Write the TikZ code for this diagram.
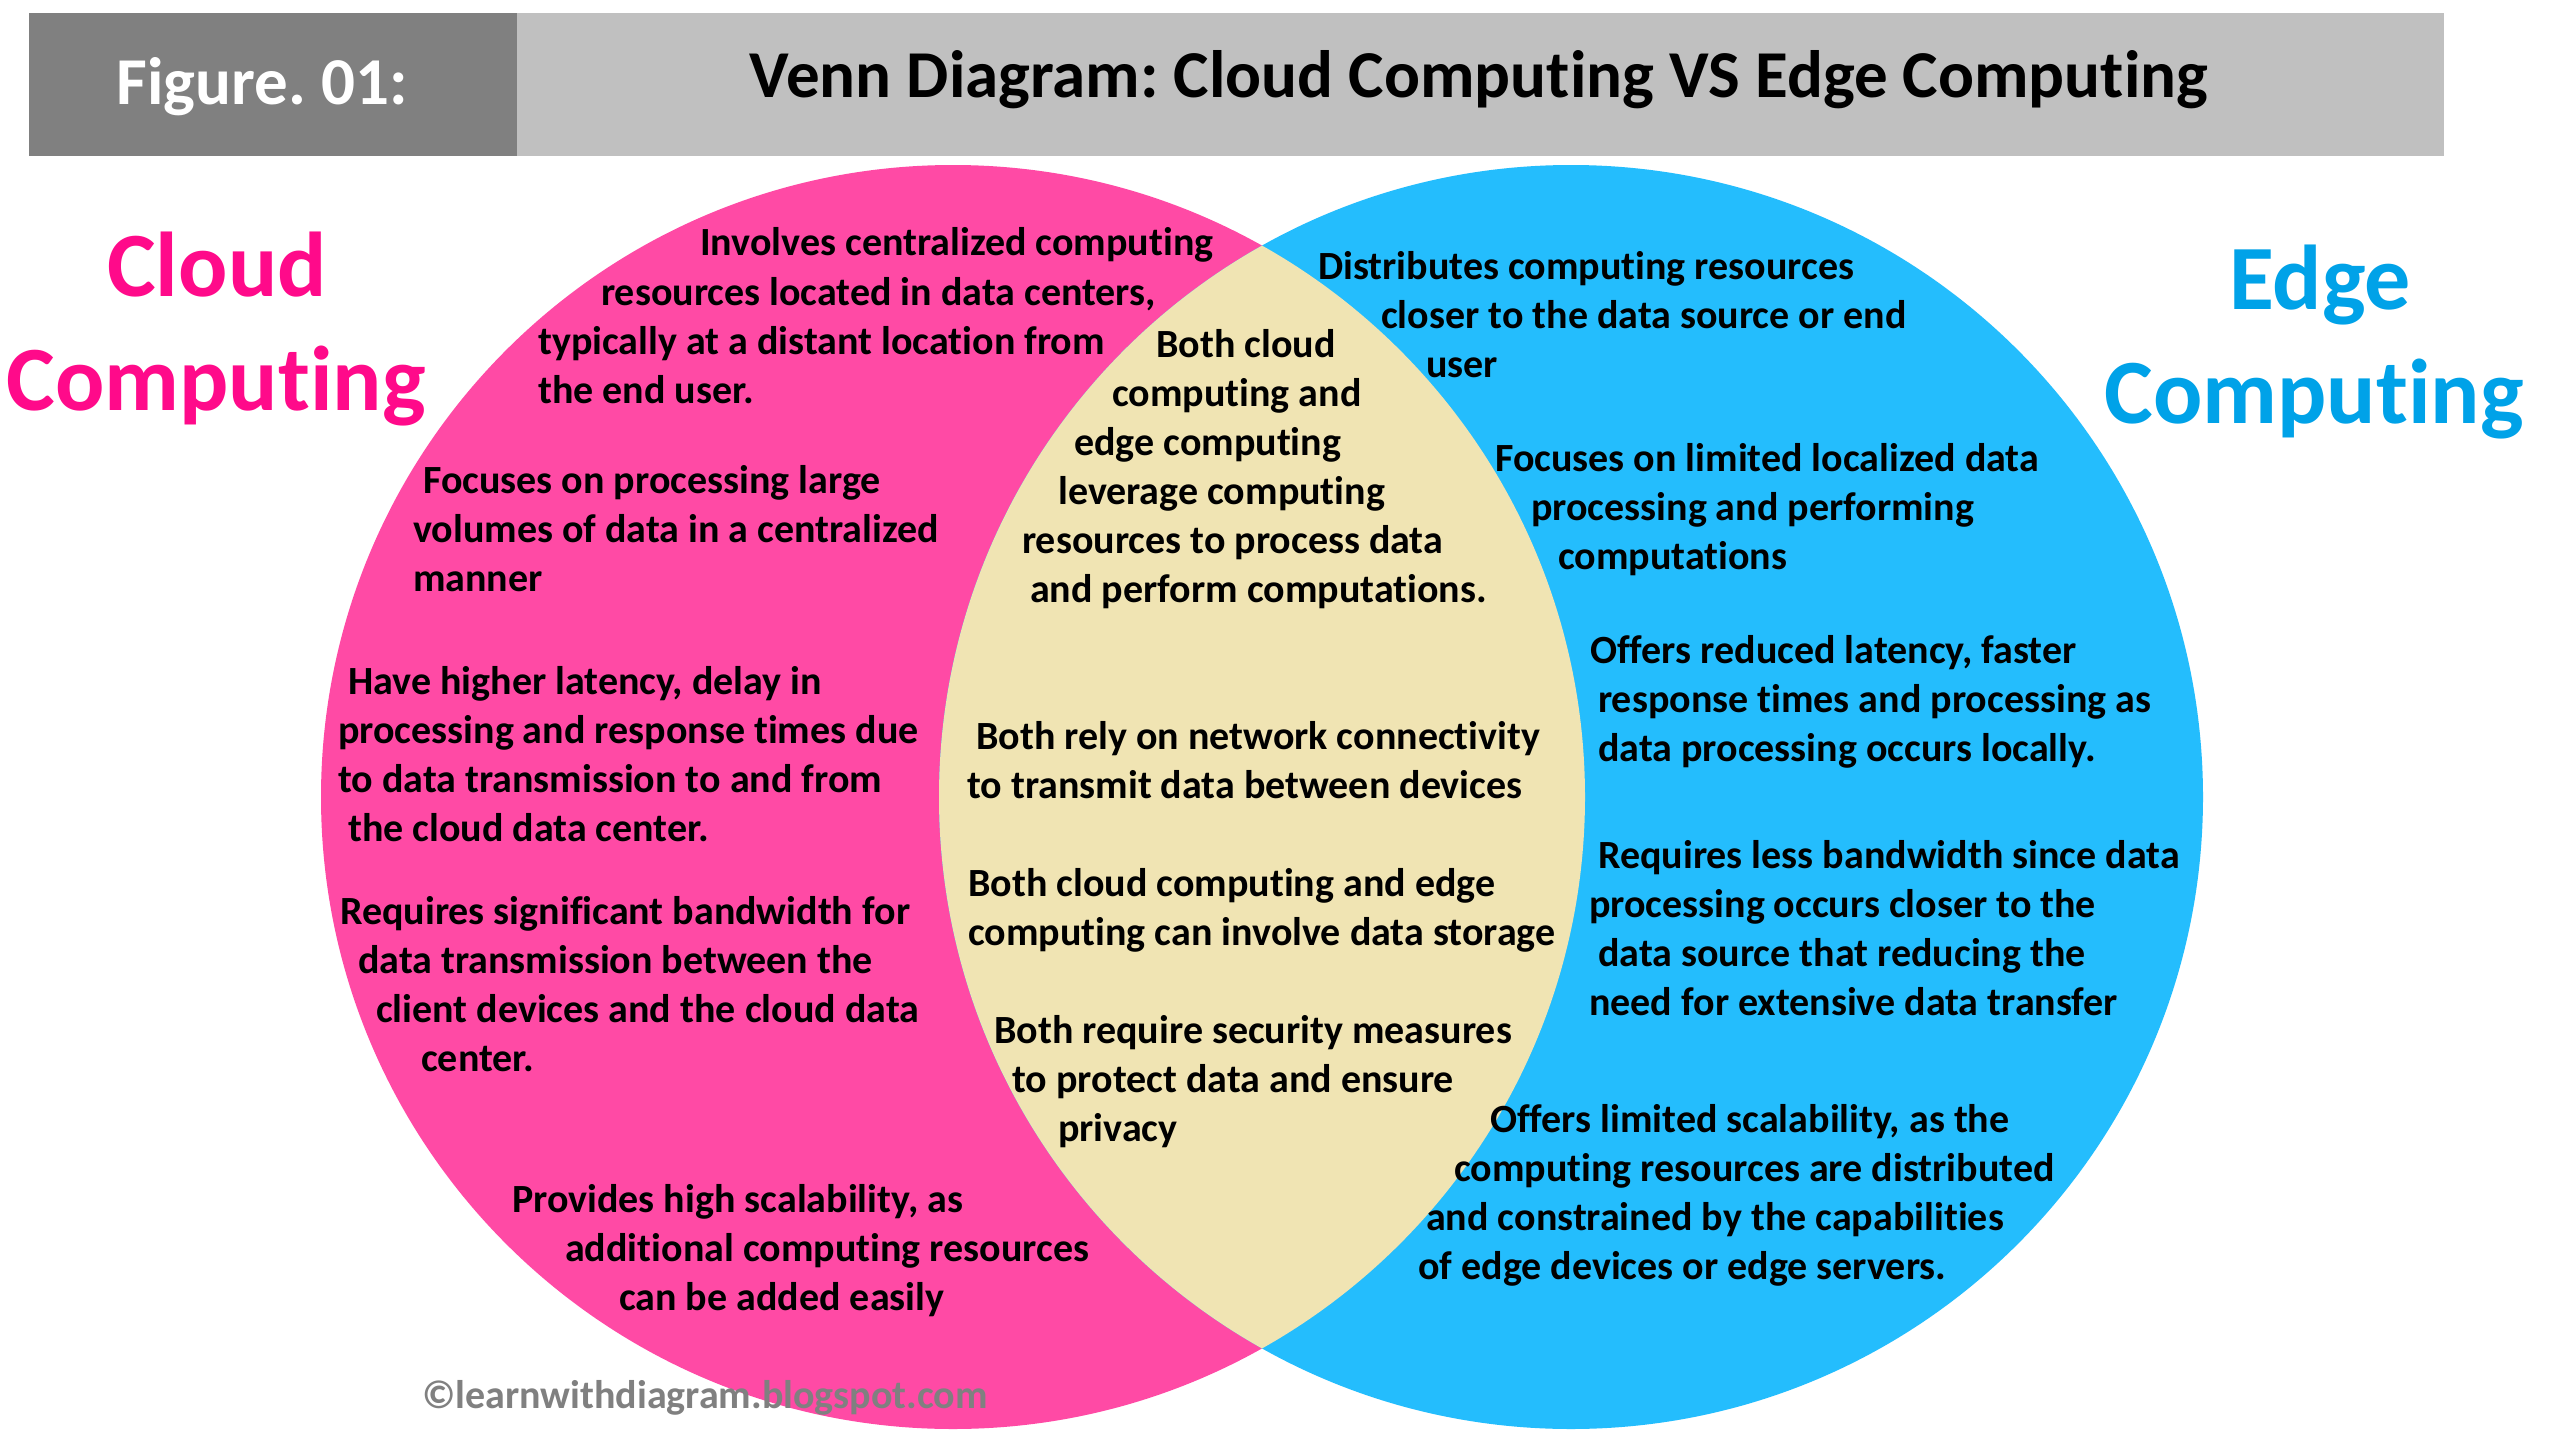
\documentclass[tikz,border=0pt]{standalone}
\usepackage{fontspec}
\setmainfont{Carlito}[RawFeature={-liga;-calt;-clig;-dlig}]
\frenchspacing
\definecolor{pinkc}{RGB}{255,74,165}
\definecolor{bluec}{RGB}{36,189,253}
\definecolor{beigec}{RGB}{240,228,179}
\definecolor{darkbar}{RGB}{128,128,128}
\definecolor{lightbar}{RGB}{192,192,192}
\definecolor{cloudlbl}{RGB}{255,10,138}
\definecolor{edgelbl}{RGB}{0,162,232}
\definecolor{markgray}{RGB}{128,128,128}
\tikzset{
  txt/.style={anchor=base west, inner sep=0pt, font=\fontsize{40}{49}\selectfont\bfseries},
  biglbl/.style={anchor=base, inner sep=0pt, font=\fontsize{92}{112}\selectfont\bfseries},
  headtxt/.style={anchor=base, inner sep=0pt, font=\fontsize{67}{80}\selectfont\bfseries},
}
\begin{document}
\begin{tikzpicture}[x=1pt,y=-1pt]
\useasboundingbox (0,0) rectangle (2560,1440);
\fill[white] (0,0) rectangle (2560,1440);
% header
\fill[darkbar] (29,13) rectangle (517,156);
\fill[lightbar] (517,13) rectangle (2444,156);
\node[headtxt, text=white] (fig) at (262,104) {Figure. 01:};
\node[headtxt, text=black] (title) at (1479,97) {Venn Diagram: Cloud Computing VS Edge Computing};
% circles
\fill[pinkc] (953,797) circle[radius=632];
\fill[bluec] (1571,797) circle[radius=632];
\begin{scope}
\clip (953,797) circle[radius=632];
\fill[beigec] (1571,797) circle[radius=632];
\end{scope}
% big labels
\node[biglbl, text=cloudlbl] (cl1) at (217,296) {Cloud};
\node[biglbl, text=cloudlbl] (cl2) at (216,410) {Computing};
\node[biglbl, text=edgelbl] (el1) at (2320,309) {Edge};
\node[biglbl, text=edgelbl] (el2) at (2314,423) {Computing};
\begin{scope}[shift={(0,3)}]
% cloud side
\node[txt] (a1) at (700,252) {Involves centralized computing};
\node[txt] (a2) at (601,302) {resources located in data centers,};
\node[txt] (a3) at (538,351) {typically at a distant location from};
\node[txt] (a4) at (538,400) {the end user.};
\node[txt] (b1) at (423,490) {Focuses on processing large};
\node[txt] (b2) at (413,539) {volumes of data in a centralized};
\node[txt] (b3) at (413,588) {manner};
\node[txt] (c1) at (348,691) {Have higher latency, delay in};
\node[txt] (c2) at (338,740) {processing and response times due};
\node[txt] (c3) at (338,789) {to data transmission to and from};
\node[txt] (c4) at (348,838) {the cloud data center.};
\node[txt] (d1) at (340,921) {Requires significant bandwidth for};
\node[txt] (d2) at (358,970) {data transmission between the};
\node[txt] (d3) at (376,1019) {client devices and the cloud data};
\node[txt] (d4) at (421,1068) {center.};
\node[txt] (e1) at (512,1209) {Provides high scalability, as};
\node[txt] (e2) at (565,1258) {additional computing resources};
\node[txt] (e3) at (619,1307) {can be added easily};
% center
\node[txt] (m1) at (1156,354) {Both cloud};
\node[txt] (m2) at (1112,403) {computing and};
\node[txt] (m3) at (1074,452) {edge computing};
\node[txt] (m4) at (1058,501) {leverage computing};
\node[txt] (m5) at (1022,550) {resources to process data};
\node[txt] (m6) at (1030,599) {and perform computations.};
\node[txt] (n1) at (976,746) {Both rely on network connectivity};
\node[txt] (n2) at (967,795) {to transmit data between devices};
\node[txt] (o1) at (968,893) {Both cloud computing and edge};
\node[txt] (o2) at (968,942) {computing can involve data storage};
\node[txt] (p1) at (994,1040) {Both require security measures};
\node[txt] (p2) at (1012,1089) {to protect data and ensure};
\node[txt] (p3) at (1058,1138) {privacy};
% edge side
\node[txt] (q1) at (1318,276) {Distributes computing resources};
\node[txt] (q2) at (1381,325) {closer to the data source or end};
\node[txt] (q3) at (1426,374) {user};
\node[txt] (r1) at (1495,468) {Focuses on limited localized data};
\node[txt] (r2) at (1531,517) {processing and performing};
\node[txt] (r3) at (1558,566) {computations};
\node[txt] (s1) at (1590,660) {Offers reduced latency, faster};
\node[txt] (s2) at (1598,709) {response times and processing as};
\node[txt] (s3) at (1598,758) {data processing occurs locally.};
\node[txt] (t1) at (1598,865) {Requires less bandwidth since data};
\node[txt] (t2) at (1589,914) {processing occurs closer to the};
\node[txt] (t3) at (1598,963) {data source that reducing the};
\node[txt] (t4) at (1589,1012) {need for extensive data transfer};
\node[txt] (u1) at (1490,1129) {Offers limited scalability, as the};
\node[txt] (u2) at (1454,1178) {computing resources are distributed};
\node[txt] (u3) at (1426,1227) {and constrained by the capabilities};
\node[txt] (u4) at (1418,1276) {of edge devices or edge servers.};
% watermark
\node[txt, text=markgray] (wm) at (422,1405) {©learnwithdiagram.blogspot.com};
\end{scope}
\end{tikzpicture}
\end{document}
